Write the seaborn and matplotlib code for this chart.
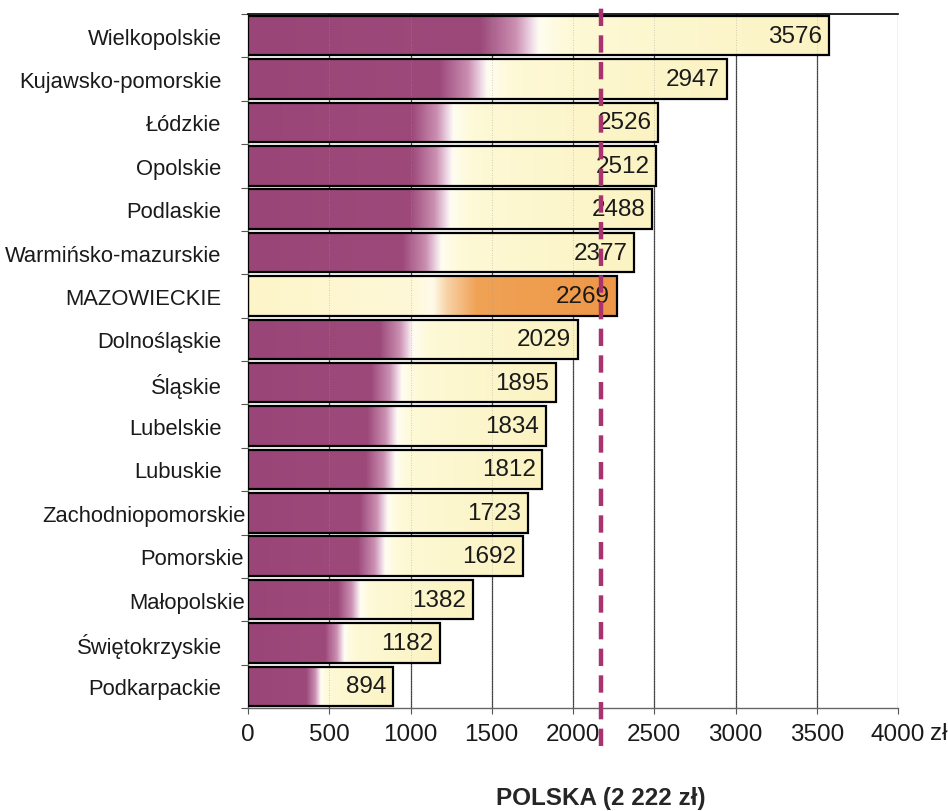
import numpy as np
import pandas as pd
import matplotlib
matplotlib.use('Agg')
import matplotlib.pyplot as plt
import seaborn as sns
from matplotlib.colors import LinearSegmentedColormap
from matplotlib.transforms import ScaledTranslation

# dane: przeciętne wynagrodzenie wg województw (zł)
regions = ['Wielkopolskie', 'Kujawsko-pomorskie', 'Łódzkie', 'Opolskie', 'Podlaskie',
           'Warmińsko-mazurskie', 'MAZOWIECKIE', 'Dolnośląskie', 'Śląskie', 'Lubelskie',
           'Lubuskie', 'Zachodniopomorskie', 'Pomorskie', 'Małopolskie', 'Świętokrzyskie',
           'Podkarpackie']
values = [3576, 2947, 2526, 2512, 2488, 2377, 2269, 2029, 1895, 1834, 1812, 1723, 1692,
          1382, 1182, 894]
highlight = 'MAZOWIECKIE'
polska_line = 2170
polska_label = 'POLSKA (2 222 zł)'
x_ticks = [0, 500, 1000, 1500, 2000, 2500, 3000, 3500, 4000]
unit = 'zł'

df = pd.DataFrame({'region': regions, 'value': values})

sns.set_style('white')
plt.rcParams['font.family'] = ['Liberation Sans', 'DejaVu Sans']

purple_cmap = LinearSegmentedColormap.from_list('purple', [
    (0.0, '#9A4577'), (0.40, '#9D4A7B'), (0.46, '#CB90B2'), (0.49, '#F3E2EC'),
    (0.5, '#FFFDF0'), (0.55, '#FEF9D6'), (1.0, '#FBF3C2')])
orange_cmap = LinearSegmentedColormap.from_list('orange', [
    (0.0, '#FDF5C8'), (0.45, '#FEF8D8'), (0.5, '#FFFBEA'), (0.54, '#F8D2A6'),
    (0.62, '#F0A255'), (1.0, '#EE9748')])

fig = plt.figure(figsize=(9.48, 8.12), dpi=100)
ax = fig.add_axes([248 / 948, 1 - 709 / 812, 650 / 948, 694 / 812])

sns.barplot(data=df, x='value', y='region', orient='h', width=0.91, color='white',
            edgecolor='black', linewidth=1.6, ax=ax, zorder=3)

# gradient w każdym słupku
grad = np.linspace(0, 1, 512).reshape(1, -1)
for patch, name, v in zip(ax.patches, regions, values):
    patch.set_facecolor('none')
    y0 = patch.get_y()
    h = patch.get_height()
    cmap = orange_cmap if name == highlight else purple_cmap
    im = ax.imshow(grad, cmap=cmap, extent=[0, v, y0 + h, y0], aspect='auto',
                   zorder=2, interpolation='bilinear')
    im.set_clip_path(patch)

# etykiety wartości
for i, v in enumerate(values):
    ax.annotate(f'{v}', xy=(v, i), xytext=(-5, 0), textcoords='offset points',
                ha='right', va='center', fontsize=17.5, color='#1a1a1a', zorder=5)

# siatka
for x in x_ticks[1:]:
    ax.axvline(x, color='#3a3a3a' if x < 4000 else '#8a8a8a', lw=0.9, zorder=0)
    ax.axvline(x, color='#9a9a9a', lw=0.6, ls=(0, (1, 2)), alpha=0.6, zorder=2.5)

# linia średniej krajowej
ax.axvline(polska_line, ymin=-0.055, ymax=1.008, color='#A8336F', lw=3.2,
           dashes=(3.9, 2.1), dash_capstyle='butt', clip_on=False, zorder=6)

ax.set_xlim(0, 4000)
ax.set_ylim(len(regions) - 0.5, -0.5)
ax.set_xticks(x_ticks)
ax.set_xticklabels([str(t) for t in x_ticks])
ax.set_yticks(np.arange(len(regions)))
ax.set_yticks(np.arange(-0.5, len(regions), 1), minor=True)
ax.set_xlabel('')
ax.set_ylabel('')

ax.tick_params(axis='x', which='major', bottom=True, length=4, width=0.8,
               color='#555555', pad=7, labelsize=17.5, labelcolor='#1a1a1a')
ax.tick_params(axis='y', which='major', left=False, length=0, pad=19,
               labelsize=15.8, labelcolor='#1a1a1a')
ax.tick_params(axis='y', which='minor', left=True, length=5, width=0.8,
               color='#555555')

for side in ['left', 'bottom']:
    ax.spines[side].set_color('#666666')
    ax.spines[side].set_linewidth(1.0)
ax.spines['top'].set_color('black')
ax.spines['top'].set_linewidth(1.2)
ax.spines['right'].set_visible(False)

# etykiety przy samej osi
flush = {'Zachodniopomorskie': 24, 'Pomorskie': 22, 'Małopolskie': 23}
for lab in ax.get_yticklabels():
    dx = flush.get(lab.get_text())
    if dx:
        lab.set_transform(lab.get_transform() + ScaledTranslation(dx / 100, 0, fig.dpi_scale_trans))

# jednostka przy ostatnim podziale
ax.annotate(unit, xy=(4000, 0), xycoords=('data', 'axes fraction'), xytext=(23, -10),
            textcoords='offset points', ha='left', va='top', fontsize=17.5, color='#1a1a1a',
            annotation_clip=False)

fig.text(601 / 948, 1 - 799 / 812, polska_label, ha='center', va='center', fontsize=17.5,
         fontweight='bold', family=['Liberation Sans Narrow', 'Liberation Sans', 'DejaVu Sans'])

fig.savefig('out.png', dpi=100)
